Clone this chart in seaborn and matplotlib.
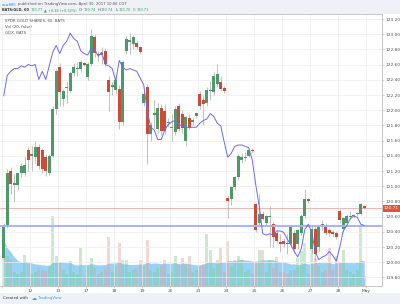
import numpy as np
import pandas as pd
import matplotlib
matplotlib.use("Agg")
import matplotlib.pyplot as plt
from matplotlib.patches import Rectangle
import matplotlib.transforms as mtransforms
import seaborn as sns

sns.set_theme(style="white")
plt.rcParams['font.family'] = ['DejaVu Sans']

# ---------------- data ----------------
day_labels = ["", "12", "13", "17", "18", "19", "20", "21", "24", "25", "26", "27", "28", "May"]
bars_per_day = 8

open_ = [120.06, 120.49, 121.20, 121.02, 121.02, 121.17, 121.17, 121.47,
         121.40, 121.38, 121.52, 121.47, 121.38, 121.17, 121.40, 122.02,
         122.57, 122.15, 122.29, 122.25, 122.49, 122.54, 122.54, 122.62,
         122.44, 122.61, 122.96, 122.74, 122.73, 122.78, 122.40, 122.30,
         122.27, 122.28, 121.84, 122.78, 122.90, 122.87, 122.88, 122.83,
         122.09, 122.31, 121.69, 121.94, 121.75, 122.03, 121.99, 121.83,
         121.76, 121.71, 122.06, 121.95, 121.60, 121.90, 121.85, 121.93,
         122.21, 122.13, 122.10, 122.25, 122.24, 122.35, 122.37, 122.29,
         120.85, 120.83, 120.99, 121.12, 121.34, 121.37, 121.40, 121.48,
         120.76, 120.51, 120.64, 120.52, 120.60, 120.50, 120.39, 120.26,
         120.28, 120.25, 120.24, 120.39, 120.24, 120.39, 120.61, 120.83,
         120.17, 120.44, 120.20, 120.48, 120.46, 120.42, 120.40, 120.39,
         120.67, 120.44, 120.52, 120.59, 120.61, 120.63, 120.64, 120.74]
high = [120.52, 121.23, 121.25, 121.16, 121.18, 121.30, 121.40, 121.51,
        121.53, 121.60, 121.56, 121.50, 121.42, 121.42, 122.05, 122.54,
        122.62, 122.28, 122.39, 122.52, 122.62, 122.63, 122.66, 122.64,
        122.63, 123.07, 123.00, 122.78, 122.83, 122.82, 122.45, 122.37,
        122.42, 122.33, 122.66, 122.97, 123.02, 122.99, 122.92, 122.85,
        122.25, 122.35, 121.85, 122.13, 122.10, 122.08, 122.08, 121.90,
        121.95, 122.06, 122.10, 122.00, 121.93, 121.95, 121.90, 121.98,
        122.25, 122.20, 122.30, 122.39, 122.50, 122.61, 122.45, 122.32,
        120.88, 121.00, 121.14, 121.43, 121.42, 121.45, 121.50, 121.50,
        120.78, 120.90, 120.68, 120.62, 120.74, 120.53, 120.42, 120.37,
        120.32, 120.37, 120.48, 120.42, 120.44, 120.64, 120.96, 120.85,
        120.47, 120.47, 120.48, 120.55, 120.52, 120.45, 120.43, 120.41,
        120.70, 120.60, 120.64, 120.68, 120.64, 120.66, 120.78, 120.74]
low = [120.03, 120.45, 120.90, 120.81, 120.95, 121.12, 121.14, 121.20,
       121.20, 121.30, 121.22, 121.18, 121.14, 121.15, 121.38, 121.95,
       122.05, 122.06, 122.10, 122.22, 122.45, 122.45, 122.50, 122.58,
       122.40, 122.58, 122.70, 122.65, 122.61, 122.58, 121.99, 122.20,
       122.22, 121.75, 121.80, 122.74, 122.74, 122.80, 122.80, 122.74,
       122.05, 121.29, 121.60, 121.77, 121.70, 121.68, 121.69, 121.78,
       121.60, 121.68, 121.72, 121.70, 121.53, 121.75, 121.80, 121.90,
       122.02, 121.80, 122.05, 122.13, 122.20, 122.30, 122.25, 122.22,
       120.58, 120.75, 120.95, 121.08, 121.30, 121.33, 121.38, 121.44,
       120.40, 120.46, 120.55, 120.48, 120.20, 120.20, 120.25, 120.13,
       120.20, 120.11, 120.20, 120.12, 120.17, 120.36, 120.58, 120.78,
       120.12, 120.02, 120.15, 120.42, 120.36, 120.35, 120.33, 120.30,
       120.52, 120.40, 120.49, 120.55, 120.58, 120.61, 120.62, 120.70]
close = [120.49, 121.17, 121.03, 121.04, 121.17, 121.27, 121.28, 121.34,
         121.42, 121.51, 121.27, 121.23, 121.20, 121.40, 122.02, 122.51,
         122.24, 122.25, 122.31, 122.49, 122.57, 122.56, 122.63, 122.60,
         122.61, 122.98, 122.75, 122.72, 122.75, 122.61, 122.24, 122.33,
         122.40, 121.84, 122.63, 122.94, 122.93, 122.96, 122.83, 122.76,
         122.21, 121.69, 121.80, 121.96, 122.03, 121.73, 121.73, 121.85,
         121.78, 122.02, 121.75, 121.77, 121.91, 121.77, 121.87, 121.96,
         122.06, 122.08, 122.26, 122.27, 122.45, 122.48, 122.28, 122.25,
         120.81, 120.99, 121.12, 121.40, 121.38, 121.39, 121.48, 121.46,
         120.42, 120.64, 120.57, 120.61, 120.61, 120.33, 120.28, 120.24,
         120.24, 120.24, 120.46, 120.17, 120.42, 120.61, 120.83, 120.80,
         120.44, 120.11, 120.46, 120.50, 120.39, 120.39, 120.37, 120.33,
         120.55, 120.58, 120.61, 120.61, 120.62, 120.64, 120.77, 120.71]
volume = [1840, 1200, 1040, 560, 480, 560, 1240, 880,
          480, 560, 720, 640, 600, 800, 2800, 1200,
          960, 640, 480, 1000, 560, 480, 1520, 400,
          800, 1120, 720, 480, 560, 720, 1960, 560,
          800, 1720, 1040, 1040, 560, 640, 720, 1040,
          800, 1840, 640, 560, 720, 800, 1040, 480,
          560, 1200, 880, 1120, 880, 1200, 560, 640,
          800, 880, 2080, 1440, 720, 1040, 1520, 560,
          1800, 800, 1040, 1200, 1040, 560, 640, 480,
          880, 1440, 1440, 560, 1040, 720, 1160, 560,
          560, 480, 640, 640, 1120, 1400, 1720, 480,
          1600, 1120, 800, 560, 640, 1520, 640, 1200,
          960, 1440, 640, 560, 480, 640, 2400, 400]
gdx = [23.80, 23.95, 23.98, 24.00, 24.00, 24.02, 24.01, 24.03,
       24.02, 24.03, 23.92, 23.98, 23.92, 24.02, 24.12, 24.17,
       24.11, 24.17, 24.20, 24.26, 24.22, 24.20, 24.13, 24.11,
       24.10, 24.15, 24.14, 24.09, 24.12, 24.03, 24.02, 24.00,
       23.91, 24.06, 24.01, 23.99, 24.00, 23.99, 23.98, 23.93,
       23.88, 23.69, 23.57, 23.55, 23.48, 23.48, 23.55, 23.59,
       23.61, 23.62, 23.59, 23.58, 23.57, 23.57, 23.57, 23.57,
       23.60, 23.62, 23.63, 23.67, 23.65, 23.60, 23.58, 23.46,
       23.35, 23.38, 23.43, 23.44, 23.44, 23.43, 23.42, 23.33,
       23.15, 22.99, 22.79, 22.78, 22.79, 22.78, 22.81, 22.81,
       22.80, 22.75, 22.71, 22.66, 22.62, 22.68, 22.82, 22.86,
       22.80, 22.66, 22.60, 22.62, 22.63, 22.66, 22.63, 22.59,
       22.69, 22.81, 22.85, 22.90, 22.92, 22.91, 22.86, 22.85]
price_ticks = [119.80, 120.00, 120.20, 120.40, 120.60, 120.80, 121.00, 121.20,
               121.40, 121.60, 121.80, 122.00, 122.20, 122.40, 122.60, 122.80,
               123.00, 123.20]

# (text, colour, gap in points before it)
header1 = [("cow885", "#2a8be8", 0), ("published on TradingView.com, April 30, 2017 10:06 COT", "#555555", 0.8)]
header2 = [("BATS:GLD, 60", "#333333", 0), ("120.77", "#3c9a5f", 1.5), ("\u25b2 +0.38 (+0.32%)", "#3c9a5f", 0.8),
           ("O:", "#555555", 1.5), ("120.74", "#3c9a5f", 0.1), ("H:", "#555555", 1.2), ("120.74", "#3c9a5f", 0.1),
           ("L:", "#555555", 1.2), ("120.70", "#3c9a5f", 0.1), ("C:", "#555555", 1.2), ("120.71", "#3c9a5f", 0.1)]
legend_lines = ["SPDR GOLD SHARES, 60, BATS", "Vol (20, false)", "GDX, BATS"]

# ---------------- frame ----------------
n = len(close)
df = pd.DataFrame(dict(x=np.arange(n), open=open_, high=high, low=low,
                       close=close, volume=volume, gdx=gdx))
df["up"] = df["close"] >= df["open"]
df["vol_ma"] = df["volume"].rolling(20, min_periods=1).mean()
df["body_lo"] = df[["open", "close"]].min(axis=1)
df["body_h"] = (df["close"] - df["open"]).abs().clip(lower=0.012)

W, H = 400.0, 304.0
def fx(px): return px / W
def fy(py): return 1 - py / H

fig = plt.figure(figsize=(4, 3.04), dpi=100)
fig.patch.set_facecolor("#eef1f6")
fig.add_artist(Rectangle((0, fy(293)), 1, fy(14) - fy(293), transform=fig.transFigure,
                         facecolor="white", edgecolor="none", zorder=0))

rect = [0, fy(286), fx(382), fy(14) - fy(286)]
XLIM = (-1.07, 108.07)

# volume pane
ax_v = fig.add_axes(rect)
ax_v.patch.set_visible(False)
ax_v.fill_between(df["x"], 0, df["vol_ma"], color="#8ccff3", alpha=0.9, lw=0, zorder=1)
vcols = np.where(df["up"], "#7fc98e", "#e69a9a")
ax_v.bar(df["x"], df["volume"], width=0.8, color=vcols, alpha=0.4, lw=0, zorder=2)
ax_v.set_xlim(XLIM)
ax_v.set_ylim(0, 10880)
ax_v.axis("off")

# price pane
ax = fig.add_axes(rect)
ax.patch.set_visible(False)
ax.set_xlim(XLIM)
ax.set_ylim(119.687, 123.266)
ax.set_yticks(price_ticks)
ax.set_yticklabels([f"{p:.2f}" for p in price_ticks])
day_pos = [k * bars_per_day - 0.5 for k in range(len(day_labels))]
ax.set_xticks(day_pos)
ax.set_xticklabels(day_labels)
ax.grid(True, color="#ececec", lw=0.5, zorder=0)
ax.yaxis.tick_right()
ax.tick_params(axis="y", right=True, left=False, labelright=True, labelleft=False,
               labelsize=3.2, labelcolor="#555555", color="#b0b0b0", length=1.5, width=0.4, pad=1.2)
ax.tick_params(axis="x", bottom=True, labelsize=3.2, labelcolor="#555555",
               color="#b0b0b0", length=1.5, width=0.4, pad=0.8)
for s in ["top", "right", "bottom"]:
    ax.spines[s].set_color("#bdbdbd")
    ax.spines[s].set_linewidth(0.6)
ax.spines["left"].set_visible(False)

ax.axhline(close[-1], color="#f0a9a2", lw=0.6, zorder=2)
ax.vlines(df["x"], df["low"], df["high"], color="#a8a8a8", lw=0.5, zorder=3)
ccols = np.where(df["up"], "#4c9a68", "#cf4a37")
ax.bar(df["x"], df["body_h"], bottom=df["body_lo"], width=0.75, color=ccols, lw=0, zorder=4)

tr = mtransforms.blended_transform_factory(ax.transAxes, ax.transData)
ax.text(1.005, close[-1], f"{close[-1]:.2f}", transform=tr, ha="left", va="center",
        fontsize=3.2, color="white", zorder=10,
        bbox=dict(boxstyle="square,pad=0.3", fc="#e0533f", ec="none"))

# GDX overlay
ax_g = fig.add_axes(rect)
ax_g.patch.set_visible(False)
sns.lineplot(data=df, x="x", y="gdx", color="#6a6af5", lw=0.7, ax=ax_g, zorder=5)
ax_g.axhline(gdx[-1], color="#aab0fb", lw=1.4, zorder=4)
ax_g.set_xlim(XLIM)
ax_g.set_ylim(22.407, 24.40)
ax_g.axis("off")

# ---------------- texts ----------------
def chain(parts, px, py, size, bold_first=False):
    s0, c0, _ = parts[0]
    t = fig.text(fx(px), fy(py), s0, color=c0, fontsize=size,
                 va="center", ha="left", fontweight="bold" if bold_first else "normal")
    for s, c, gap in parts[1:]:
        t = ax_g.annotate(s, xy=(1, 0.5), xycoords=t, xytext=(gap, 0), textcoords="offset points",
                          va="center", ha="left", fontsize=size, color=c, annotation_clip=False)
    return t

chain(header1, 2, 4.5, 2.7)
chain(header2, 2, 10, 2.55, bold_first=True)
for k, s in enumerate(legend_lines):
    fig.text(fx(5), fy(21 + 6 * k), s, fontsize=2.8, color="#555555", va="center", ha="left")

t = fig.text(fx(3), fy(298), "Created with", fontsize=2.8, color="#333333", va="center", ha="left")
t2 = ax_g.annotate("\u2601", xy=(1, 0.5), xycoords=t, xytext=(3, 0), textcoords="offset points",
                   va="center", ha="left", fontsize=3.6, color="#2a9df4", annotation_clip=False)
ax_g.annotate("TradingView", xy=(1, 0.5), xycoords=t2, xytext=(0.8, 0), textcoords="offset points",
              va="center", ha="left", fontsize=2.8, color="#2a9df4", annotation_clip=False)

fig.savefig("out.png", dpi=100, facecolor=fig.get_facecolor())
